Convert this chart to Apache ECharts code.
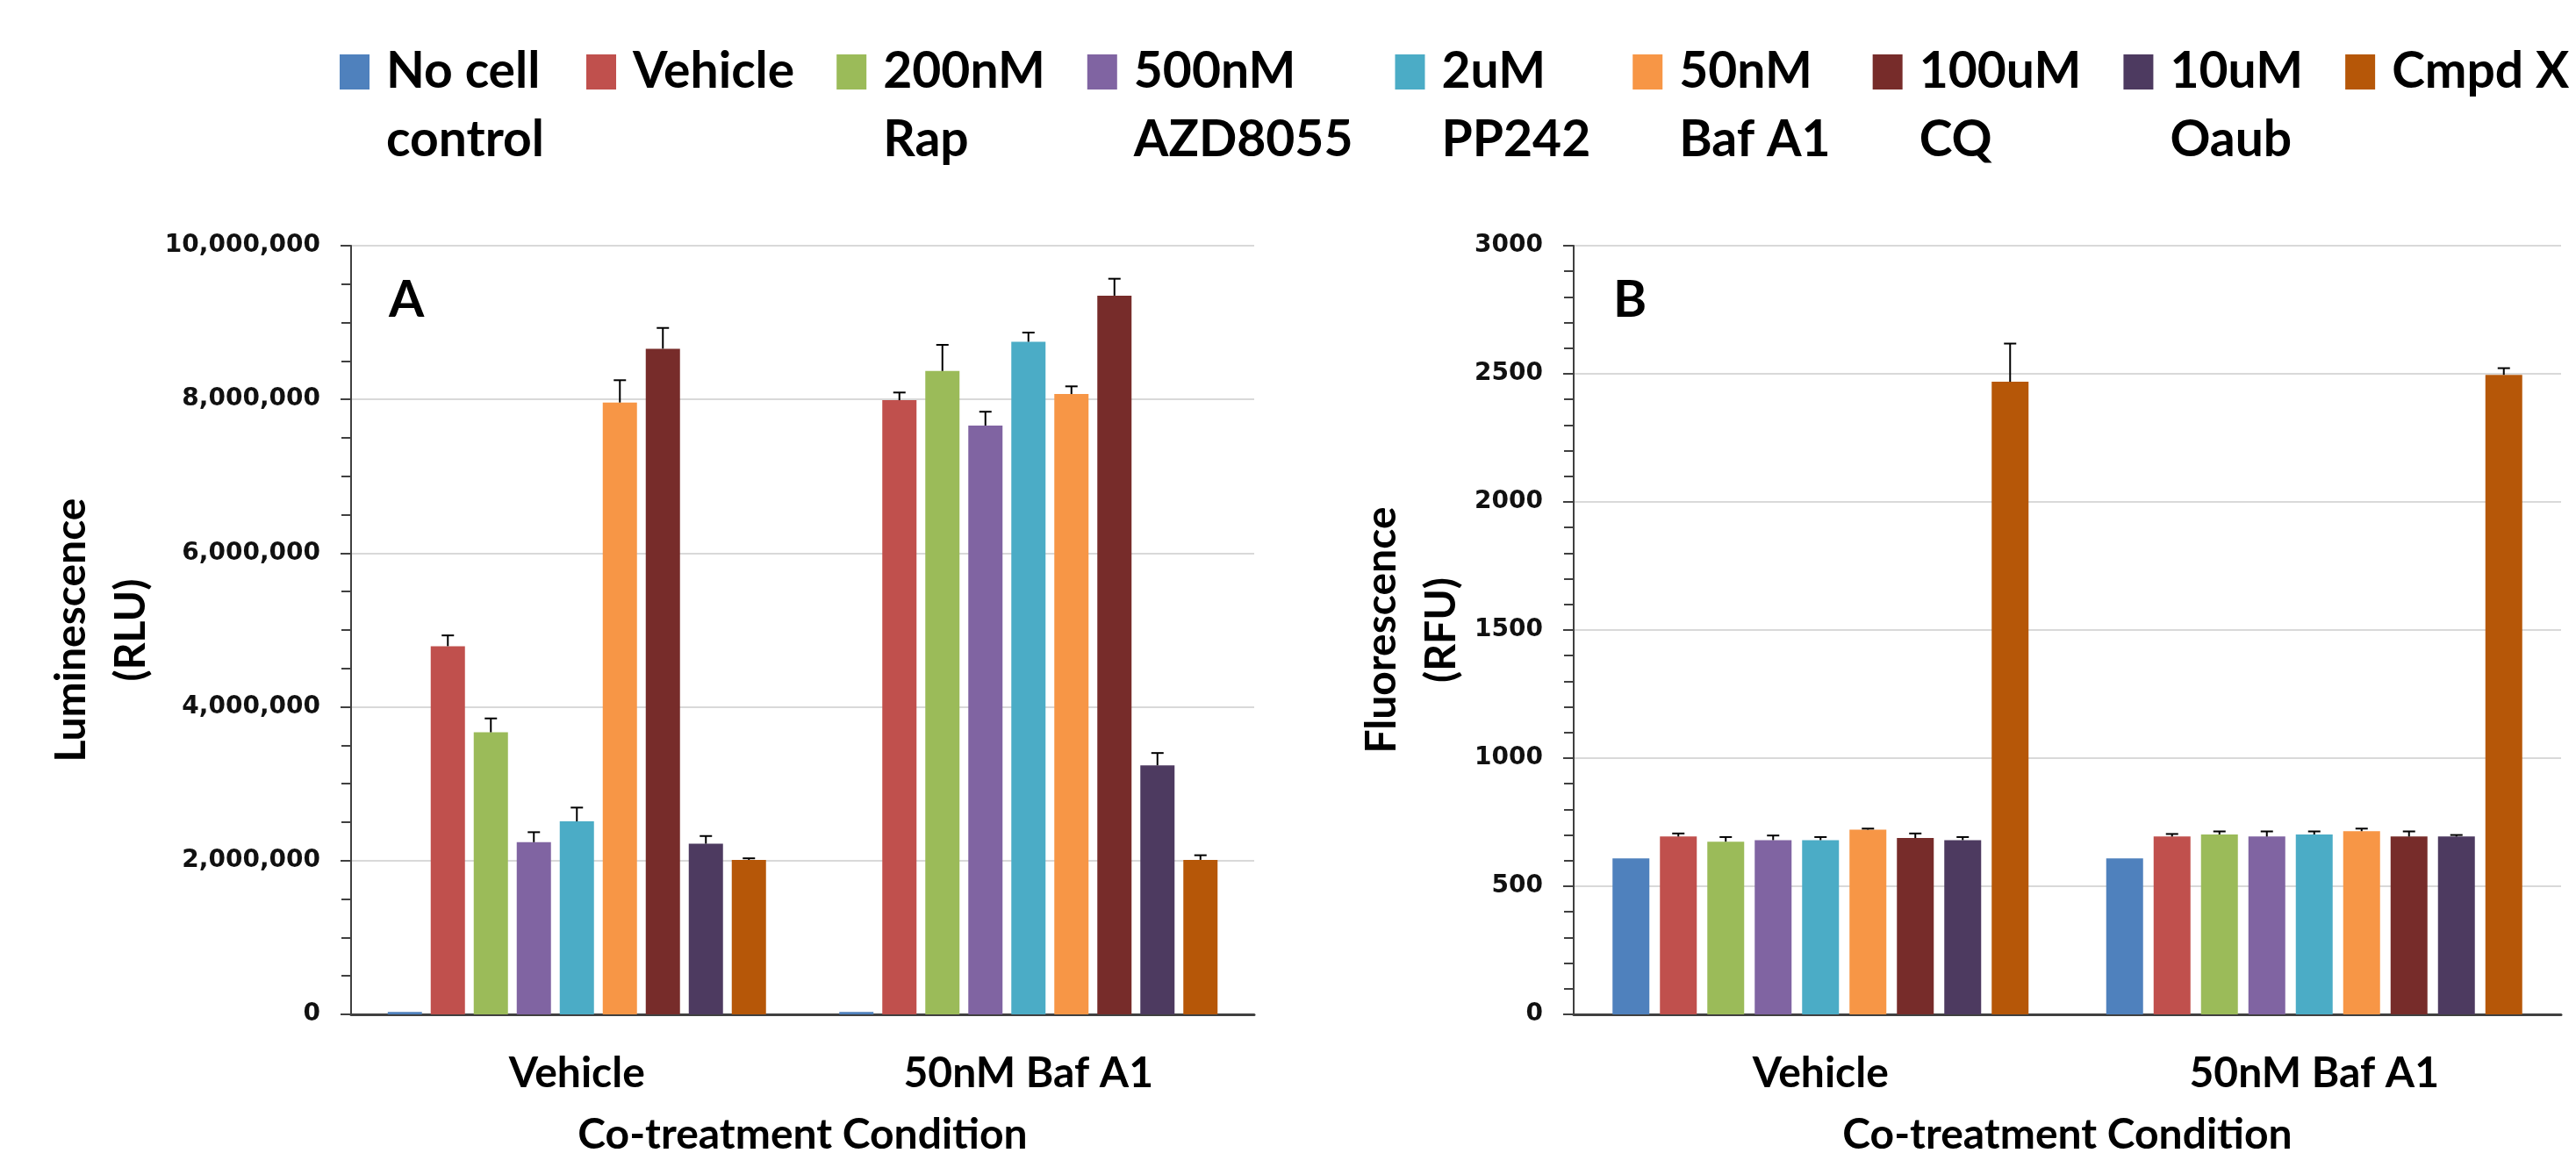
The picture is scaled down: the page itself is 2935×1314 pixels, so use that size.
<!DOCTYPE html>
<html>
<head>
<meta charset="utf-8">
<script src="https://cdn.jsdelivr.net/npm/echarts@6/dist/echarts.min.js"></script>
<style>
html,body{margin:0;padding:0;background:#fff;}
#chart{width:2935px;height:1314px;}
</style>
</head>
<body>
<div id="chart"></div>
<script>
// ---- data ----
const categories = ['Vehicle', '50nM Baf A1'];
const seriesNames = ['No cell\ncontrol', 'Vehicle', '200nM\nRap', '500nM\nAZD8055', '2uM\nPP242', '50nM\nBaf A1', '100uM\nCQ', '10uM\nOaub', 'Cmpd X'];
const seriesColors = ['#4F81BD', '#C0504D', '#9BBB59', '#8064A2', '#4BACC6', '#F79646', '#772C2A', '#4D3A60', '#B65708'];

// Panel A: Luminescence (RLU), one value per series
const lumVehicle    = [30000, 4790000, 3670000, 2240000, 2510000, 7960000, 8660000, 2220000, 2010000];
const lumVehicleErr = [0, 140000, 180000, 130000, 180000, 290000, 270000, 100000, 20000];
const lumBafA1      = [30000, 7990000, 8370000, 7660000, 8750000, 8070000, 9350000, 3240000, 2010000];
const lumBafA1Err   = [0, 100000, 340000, 180000, 120000, 100000, 220000, 160000, 60000];

// Panel B: Fluorescence (RFU), one value per series
const fluVehicle    = [609, 694, 674, 680, 680, 721, 688, 680, 2469];
const fluVehicleErr = [0, 12, 18, 18, 12, 4, 18, 12, 149];
const fluBafA1      = [609, 694, 702, 694, 702, 715, 694, 694, 2496];
const fluBafA1Err   = [0, 10, 12, 20, 12, 10, 20, 6, 26];

// axis ranges
const lumAxis = {min: 0, max: 10000000, interval: 2000000, minorSplit: 4};
const fluAxis = {min: 0, max: 3000, interval: 500, minorSplit: 5};

// ---- styling ----
const TXT = {fontFamily: 'Lato', fontWeight: 'bold', color: '#000'};
const barA = {w: 39, gap: 10};
const barB = {w: 42, gap: 12};

function errRender(bw, gap) {
  return function (params, api) {
    const cat = api.value(0), val = api.value(1), err = api.value(2), si = api.value(3);
    if (!err) return null;
    const base = api.coord([cat, val]);
    const top = api.coord([cat, val + err]);
    const n = seriesNames.length;
    const total = n * bw + (n - 1) * gap;
    const x = base[0] - total / 2 + si * (bw + gap) + bw / 2;
    const cap = 7;
    const st = {stroke: '#000', lineWidth: 2};
    return {type: 'group', children: [
      {type: 'line', shape: {x1: x, y1: base[1], x2: x, y2: top[1]}, style: st},
      {type: 'line', shape: {x1: x - cap, y1: top[1], x2: x + cap, y2: top[1]}, style: st}
    ]};
  };
}

function errData(v1, e1, v2, e2) {
  const out = [];
  for (let i = 0; i < seriesNames.length; i++) {
    out.push([0, v1[i], e1[i], i]);
    out.push([1, v2[i], e2[i], i]);
  }
  return out;
}

function xAxisOpt(gi) {
  return {
    type: 'category', gridIndex: gi, data: categories,
    axisTick: {show: false},
    axisLine: {lineStyle: {color: '#404040', width: 3}},
    axisLabel: Object.assign({fontSize: 48, margin: 44}, TXT),
    name: 'Co-treatment Condition', nameLocation: 'middle', nameGap: 114,
    nameTextStyle: Object.assign({fontSize: 48}, TXT)
  };
}
function yAxisOpt(gi, ax, name, gapName, fmt) {
  return {
    type: 'value', gridIndex: gi, min: ax.min, max: ax.max, interval: ax.interval,
    axisLine: {show: true, lineStyle: {color: '#404040', width: 2}},
    axisTick: {show: true, length: 12, lineStyle: {color: '#404040', width: 2}},
    minorTick: {show: true, splitNumber: ax.minorSplit, length: 11, lineStyle: {color: '#404040', width: 2}},
    splitLine: {show: true, lineStyle: {color: '#d9d9d9', width: 2}},
    axisLabel: {fontFamily: 'DejaVu Sans', fontWeight: 'bold', fontSize: 28, color: '#111', margin: 35, formatter: fmt},
    name: name, nameLocation: 'middle', nameGap: gapName, nameRotate: 90,
    nameTextStyle: Object.assign({fontSize: 48, lineHeight: 68}, TXT)
  };
}

const series = [];
seriesNames.forEach((n, i) => {
  series.push({
    type: 'bar', name: n, xAxisIndex: 0, yAxisIndex: 0,
    data: [lumVehicle[i], lumBafA1[i]],
    barWidth: barA.w, barGap: (barA.gap / barA.w * 100) + '%',
    itemStyle: {color: seriesColors[i]}, emphasis: {disabled: true}
  });
  series.push({
    type: 'bar', name: n, xAxisIndex: 1, yAxisIndex: 1,
    data: [fluVehicle[i], fluBafA1[i]],
    barWidth: barB.w, barGap: (barB.gap / barB.w * 100) + '%',
    itemStyle: {color: seriesColors[i]}, emphasis: {disabled: true}
  });
});
series.push({
  type: 'custom', name: 'errA', xAxisIndex: 0, yAxisIndex: 0, z: 10,
  renderItem: errRender(barA.w, barA.gap), encode: {x: 0, y: 1},
  data: errData(lumVehicle, lumVehicleErr, lumBafA1, lumBafA1Err)
});
series.push({
  type: 'custom', name: 'errB', xAxisIndex: 1, yAxisIndex: 1, z: 10,
  renderItem: errRender(barB.w, barB.gap), encode: {x: 0, y: 1},
  data: errData(fluVehicle, fluVehicleErr, fluBafA1, fluBafA1Err)
});

const option = {
  backgroundColor: '#fff',
  animation: false,
  title: [
    {text: 'A', left: 443, top: 313, padding: 0, textStyle: Object.assign({fontSize: 58}, TXT)},
    {text: 'B', left: 1838, top: 313, padding: 0, textStyle: Object.assign({fontSize: 58}, TXT)}
  ],
  legend: {
    left: 387, top: -35, width: 2700, padding: 0, itemGap: 48, itemWidth: 34, itemHeight: 40,
    icon: 'rect', selectedMode: false,
    data: seriesNames.map(n => ({name: n})),
    formatter: n => (n.indexOf('\n') >= 0 ? '\n' + n : n),
    textStyle: Object.assign({fontSize: 57, lineHeight: 78, padding: [0, 0, 0, 14]}, TXT)
  },
  grid: [
    {left: 400, top: 280, width: 1029, height: 876, outerBoundsMode: 'none', containLabel: false},
    {left: 1793, top: 280, width: 1125, height: 876, outerBoundsMode: 'none', containLabel: false}
  ],
  xAxis: [xAxisOpt(0), xAxisOpt(1)],
  yAxis: [
    yAxisOpt(0, lumAxis, 'Luminescence\n(RLU)', 201, v => Number(v).toLocaleString('en-US')),
    yAxisOpt(1, fluAxis, 'Fluorescence\n(RFU)', 106, v => String(v))
  ],
  series: series
};

const chart = echarts.init(document.getElementById('chart'), null, {renderer: 'canvas'});
chart.setOption(option);
</script>
</body>
</html>
